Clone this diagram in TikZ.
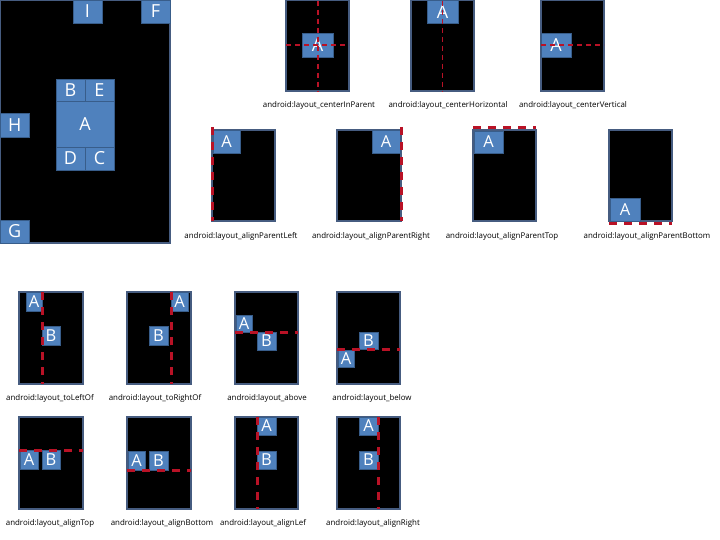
\documentclass[tikz,border=0pt]{standalone}
\usepackage{fontspec}
\setmainfont{Open Sans}
\definecolor{boxblue}{RGB}{79,129,189}
\definecolor{boxedge}{RGB}{56,93,138}
\definecolor{paneledge}{RGB}{70,92,128}
\definecolor{dred}{RGB}{185,18,38}
\tikzset{
  panel/.style={draw=paneledge, line width=1.2pt, fill=black, inner sep=0pt, outer sep=0pt},
  blk/.style={draw=boxedge, line width=0.8pt, fill=boxblue, text=white, inner sep=0pt, outer sep=0pt, font=\fontsize{16.5}{16.5}\selectfont},
  bigblk/.style={blk, font=\fontsize{18}{18}\selectfont},
  rdthick/.style={draw=dred, line width=3pt, dash pattern=on 8pt off 7pt},
  rdthin/.style={draw=dred, line width=1.8pt, dash pattern=on 5pt off 4pt},
  lbl/.style={font=\fontsize{7.9}{9}\selectfont, text=black, inner sep=0pt}
}
\newcommand\mybox[7][blk]{\node[#1,minimum width={#5pt-#3pt},minimum height={#6pt-#4pt}] (#2) at ({(#3+#5)/2},{(#4+#6)/2}) {#7};}
\newcommand\mypanel[5]{\node[panel,minimum width={#4pt-#2pt},minimum height={#5pt-#3pt}] (#1) at ({(#2+#4)/2},{(#3+#5)/2}) {};}
\begin{document}
\begin{tikzpicture}[x=1pt,y=-1pt]
\useasboundingbox (0,0) rectangle (720,540);
% big panel
\mypanel{p0}{0.6}{0.6}{170}{243}
\mybox[bigblk]{bI}{73}{0}{102}{23}{I}
\mybox[bigblk]{bF}{141}{0}{170}{23}{F}
\mybox[bigblk]{bB}{56}{79}{85}{101}{B}
\mybox[bigblk]{bE}{85}{79}{114}{101}{E}
\mybox[bigblk]{bA}{56}{101}{114}{147}{A}
\mybox[bigblk]{bD}{56}{147}{85}{170}{D}
\mybox[bigblk]{bC}{85}{147}{114}{170}{C}
\mybox[bigblk]{bH}{0.6}{113}{29}{137}{H}
\mybox[bigblk]{bG}{0.6}{220}{29}{243}{G}
% top row
\mypanel{p1}{286}{0.6}{349}{91}
\mybox[bigblk]{a1}{302}{33}{333}{57}{A}
\draw[rdthin] ([xshift=0.5pt]p1.north) -- ([xshift=0.5pt]p1.south);
\draw[rdthin] (p1.west |- a1.center) -- (p1.east |- a1.center);
\node[lbl] (l1) at (319,105) {android:layout\_centerInParent};
\mypanel{p2}{411}{0.6}{474}{91}
\mybox[bigblk]{a2}{427}{0.6}{458}{23}{A}
\draw[rdthin] (p2.north) -- (p2.south);
\node[lbl] (l2) at (448,105) {android:layout\_centerHorizontal};
\mypanel{p3}{541}{0.6}{604}{91}
\mybox[bigblk]{a3}{541}{33}{571}{57}{A}
\draw[rdthin] (p3.west |- a3.center) -- (p3.east |- a3.center);
\node[lbl] (l3) at (573,105) {android:layout\_centerVertical};
% second row
\mypanel{p4}{212}{130}{275}{221}
\mybox{a4}{213}{130}{240}{153}{A}
\draw[rdthick] ([yshift=3pt]p4.north west) -- (p4.south west);
\node[lbl] (l4) at (241,236) {android:layout\_alignParentLeft};
\mypanel{p5}{337}{130}{401}{221}
\mybox{a5}{372}{130}{400}{153}{A}
\draw[rdthick] ([yshift=3pt]p5.north east) -- (p5.south east);
\node[lbl] (l5) at (371,236) {android:layout\_alignParentRight};
\mypanel{p6}{473}{130}{536}{221}
\mybox{a6}{474}{131}{503}{153}{A}
\draw[rdthick] ([yshift=2.5pt]p6.north west) -- ([yshift=2.5pt]p6.north east);
\node[lbl] (l6) at (502,236) {android:layout\_alignParentTop};
\mypanel{p7}{609}{130}{672}{221}
\mybox{a7}{610}{198}{640}{221}{A}
\draw[rdthick] ([yshift=-3pt]p7.south west) -- ([yshift=-3pt]p7.south east);
\node[lbl] (l7) at (647,236) {android:layout\_alignParentBottom};
% third row
\mypanel{p8}{19}{292}{83}{384}
\mybox{a8}{26}{292}{42}{311}{A}
\mybox{b8}{42}{326}{60}{345}{B}
\draw[rdthick] (p8.north -| a8.east) -- (p8.south -| a8.east);
\node[lbl] (l8) at (50,398) {android:layout\_toLeftOf};
\mypanel{p9}{127}{292}{191}{384}
\mybox{a9}{171}{292}{188}{311}{A}
\mybox{b9}{149}{326}{168}{345}{B}
\draw[rdthick] (p9.north -| a9.west) -- (p9.south -| a9.west);
\node[lbl] (l9) at (155,398) {android:layout\_toRightOf};
\mypanel{p10}{235}{292}{298}{384}
\mybox{a10}{236}{315}{252}{332}{A}
\mybox{b10}{257}{332}{276}{350}{B}
\draw[rdthick] (p10.west |- a10.south) -- (p10.east |- a10.south);
\node[lbl] (l10) at (267,398) {android:layout\_above};
\mypanel{p11}{337}{292}{400}{384}
\mybox{a11}{338}{350}{354}{367}{A}
\mybox{b11}{359}{332}{378}{349}{B}
\draw[rdthick] (p11.west |- b11.south) -- (p11.east |- b11.south);
\node[lbl] (l11) at (372,398) {android:layout\_below};
% fourth row
\mypanel{p12}{19}{417}{83}{509}
\mybox{a12}{20}{450}{38}{469}{A}
\mybox{b12}{42}{450}{60}{469}{B}
\draw[rdthick] (p12.west |- a12.north) -- (p12.east |- a12.north);
\node[lbl] (l12) at (50,523) {android:layout\_alignTop};
\mypanel{p13}{127}{417}{191}{509}
\mybox{a13}{128}{451}{145}{470}{A}
\mybox{b13}{149}{451}{168}{470}{B}
\draw[rdthick] (p13.west |- a13.south) -- (p13.east |- a13.south);
\node[lbl] (l13) at (162,523) {android:layout\_alignBottom};
\mypanel{p14}{235}{417}{298}{509}
\mybox{a14}{257}{417}{276}{435}{A}
\mybox{b14}{257}{451}{276}{469}{B}
\draw[rdthick] (p14.north -| a14.west) -- (p14.south -| a14.west);
\node[lbl] (l14) at (263,523) {android:layout\_alignLef};
\mypanel{p15}{337}{417}{400}{509}
\mybox{a15}{359}{417}{378}{435}{A}
\mybox{b15}{359}{451}{378}{469}{B}
\draw[rdthick] (p15.north -| a15.east) -- (p15.south -| a15.east);
\node[lbl] (l15) at (373,523) {android:layout\_alignRight};
\end{tikzpicture}
\end{document}
